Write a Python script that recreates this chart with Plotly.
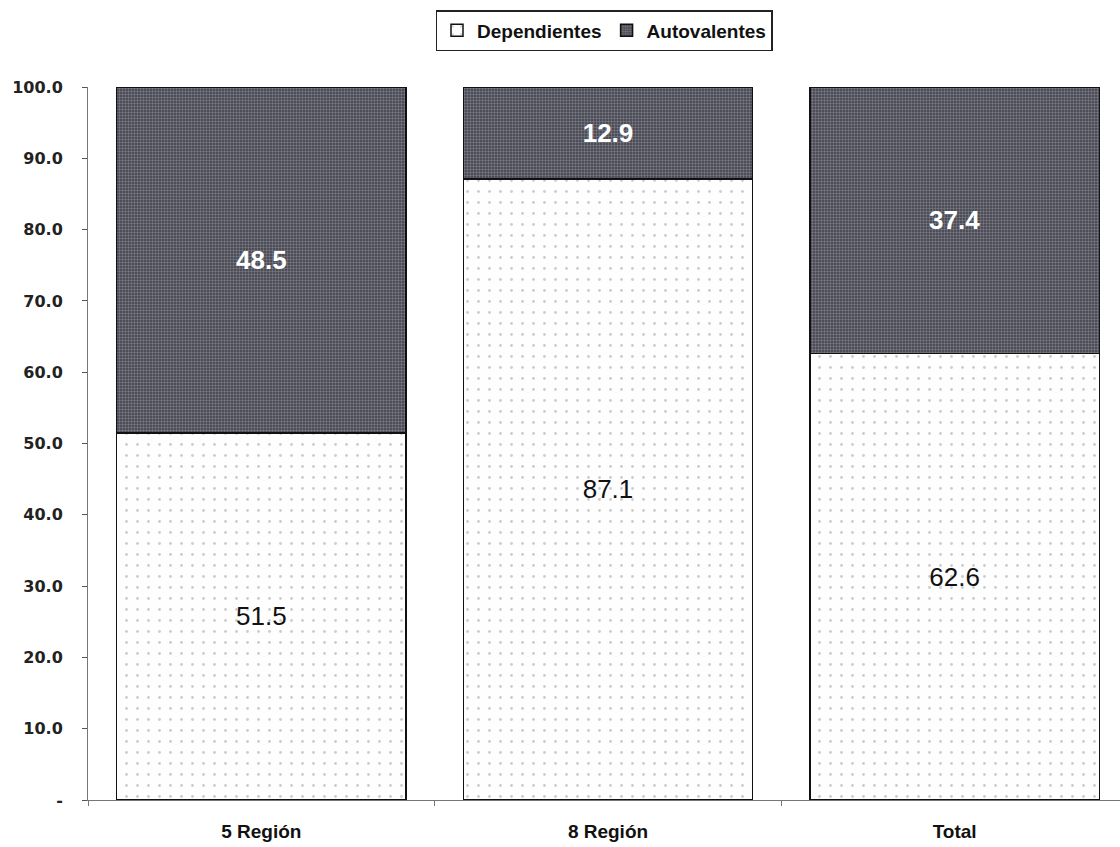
import plotly.graph_objects as go

categories = ["5 Región", "8 Región", "Total"]
dependientes = [51.5, 87.1, 62.6]
autovalentes = [48.5, 12.9, 37.4]
y_ticks = [0, 10, 20, 30, 40, 50, 60, 70, 80, 90, 100]
y_tick_labels = ["-", "10.0", "20.0", "30.0", "40.0", "50.0", "60.0", "70.0", "80.0", "90.0", "100.0"]

fig = go.Figure()

fig.add_trace(go.Bar(
    name="Dependientes",
    x=categories,
    y=dependientes,
    text=[f"{v:.1f}" for v in dependientes],
    textposition="inside",
    insidetextanchor="middle",
    textfont=dict(family="Arial, Liberation Sans", size=26, color="#111111"),
    marker=dict(
        color="#ffffff",
        line=dict(color="#111111", width=1.5),
        pattern=dict(shape=".", fgcolor="#9a9a9a", bgcolor="#fefefe", size=11, solidity=0.05),
    ),
))

fig.add_trace(go.Bar(
    name="Autovalentes",
    x=categories,
    y=autovalentes,
    text=[f"<b>{v:.1f}</b>" for v in autovalentes],
    textposition="inside",
    insidetextanchor="middle",
    textfont=dict(family="Arial, Liberation Sans", size=26, color="#ffffff"),
    marker=dict(
        color="#3e3e4a",
        line=dict(color="#111111", width=1.5),
        pattern=dict(shape=".", fgcolor="#b2b2ba", bgcolor="#3e3e4a", size=3, solidity=0.5),
    ),
))

fig.update_layout(
    barmode="stack",
    bargap=0.165,
    width=1120,
    height=847,
    margin=dict(l=88, r=0, t=87, b=47),
    paper_bgcolor="#ffffff",
    plot_bgcolor="#ffffff",
    showlegend=True,
    legend=dict(
        orientation="h",
        x=0.5,
        xanchor="center",
        xref="paper",
        y=1 - 10 / 847,
        yref="container",
        yanchor="top",
        bordercolor="#222222",
        borderwidth=1.5,
        font=dict(family="Liberation Sans Narrow, Arial Narrow, Arial", size=19, color="#111111", weight="bold"),
        traceorder="normal",
        itemwidth=30,
    ),
)

fig.update_yaxes(
    range=[0, 100],
    tickvals=y_ticks,
    ticktext=y_tick_labels,
    ticks="outside",
    ticklen=5,
    tickcolor="#555555",
    showline=True,
    linecolor="#777777",
    linewidth=1,
    showgrid=False,
    zeroline=False,
    tickfont=dict(family="DejaVu Sans", size=16, color="#222222", weight="bold"),
    ticklabelstandoff=16,
)

fig.update_xaxes(
    range=[-0.5, 2.477],
    ticks="outside",
    tickson="boundaries",
    ticklen=5,
    tickcolor="#777777",
    showline=True,
    linecolor="#777777",
    linewidth=1,
    showgrid=False,
    tickfont=dict(family="Liberation Sans Narrow, Arial Narrow, Arial", size=19, color="#111111", weight="bold"),
    ticklabelstandoff=14,
)

fig.write_html("out.html")
